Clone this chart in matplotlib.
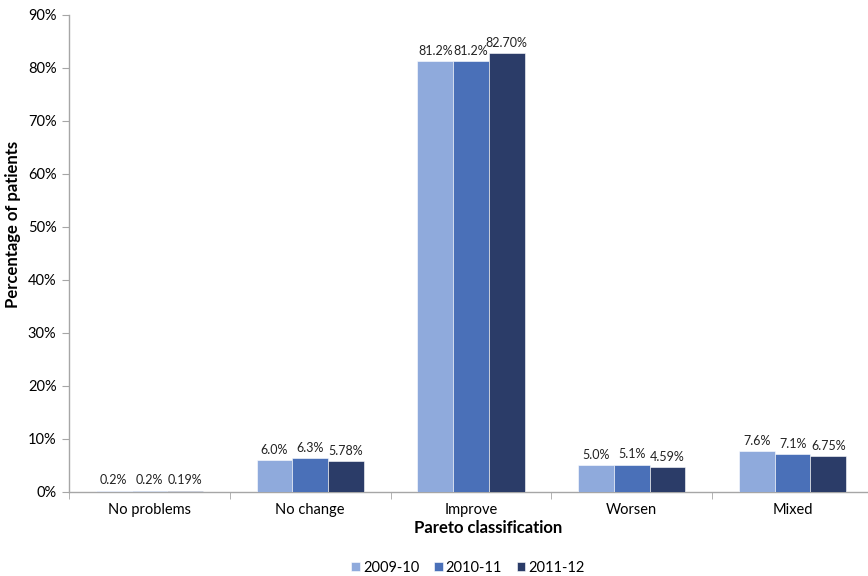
import matplotlib
matplotlib.use("Agg")
import matplotlib.pyplot as plt
from matplotlib.ticker import FuncFormatter, FixedLocator
import numpy as np

## Data
CATEGORIES = ["No problems", "No change", "Improve", "Worsen", "Mixed"]
YEARS = ["2009-10", "2010-11", "2011-12"]
PCT_2009 = [0.2, 6.0, 81.2, 5.0, 7.6]
PCT_2010 = [0.2, 6.3, 81.2, 5.1, 7.1]
PCT_2011 = [0.19, 5.78, 82.70, 4.59, 6.75]
DECIMALS = [1, 1, 2]

COLORS = ["#8FAADC", "#4A70B8", "#2B3C68"]
AXIS_GREY = "#A6A6A6"

plt.rcParams["font.family"] = ["Lato", "DejaVu Sans"]


def main():
    fig = plt.figure(figsize=(8.68, 5.76), dpi=100)
    W, H = 868, 576
    left, right, bottom, top = 69, 873, 491.7, 14.7
    ax = fig.add_axes([left / W, 1 - bottom / H, (right - left) / W, (bottom - top) / H])

    series = [PCT_2009, PCT_2010, PCT_2011]
    x = np.arange(len(CATEGORIES))
    width = 0.222
    for i, (vals, year) in enumerate(zip(series, YEARS)):
        pos = x + (i - 1) * width
        ax.bar(pos, vals, width, color=COLORS[i], edgecolor="white", linewidth=0.4,
               label=year, zorder=3)
        for p, v in zip(pos, vals):
            ax.text(p, v + 0.8, f"{v:.{DECIMALS[i]}f}%", ha="center", va="bottom",
                    fontsize=9, color="#222222")

    ax.set_xlim(-0.5, len(CATEGORIES) - 0.5)
    ax.set_ylim(0, 90)
    ax.set_yticks(range(0, 91, 10))
    ax.yaxis.set_major_formatter(FuncFormatter(lambda v, _: f"{v:.0f}%"))

    ax.set_xticks(x)
    ax.set_xticklabels(CATEGORIES, fontsize=10.5)
    ax.xaxis.set_minor_locator(FixedLocator(np.arange(-0.5, len(CATEGORIES), 1.0)))
    ax.tick_params(axis="x", which="major", length=0, pad=8)
    ax.tick_params(axis="x", which="minor", length=5, color=AXIS_GREY, direction="out")
    ax.tick_params(axis="y", length=5, color=AXIS_GREY, labelsize=10.5, pad=4)

    for side in ["top", "right"]:
        ax.spines[side].set_visible(False)
    for side in ["left", "bottom"]:
        ax.spines[side].set_color(AXIS_GREY)
        ax.spines[side].set_linewidth(1.0)

    fig.text(13 / W, 1 - 224 / H, "Percentage of patients", rotation=90, ha="center",
             va="center", fontsize=12, fontweight="bold")
    fig.text(488 / W, 1 - 528 / H, "Pareto classification", ha="center", va="center",
             fontsize=12, fontweight="bold")

    fig.legend(loc="center", bbox_to_anchor=(468 / W, 1 - 568 / H), ncol=3, frameon=False,
               fontsize=10.5, handlelength=0.6, handleheight=0.6, handletextpad=0.2,
               columnspacing=1.0)

    fig.savefig("out.png", dpi=100)


if __name__ == "__main__":
    main()
